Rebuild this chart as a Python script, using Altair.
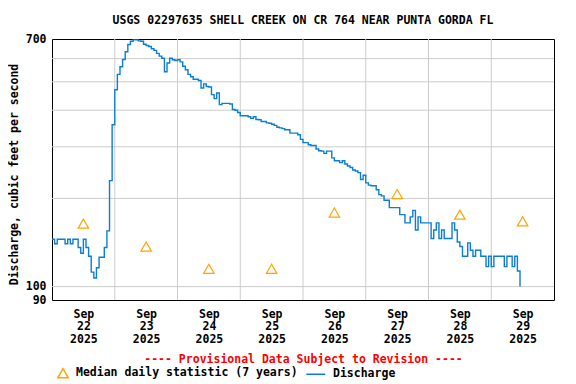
import json
import altair as alt
import pandas as pd

FONT = "DejaVu Sans Mono"
FS = 11.5

TITLE = "USGS 02297635 SHELL CREEK ON CR 764 NEAR PUNTA GORDA FL"
Y_TITLE = "Discharge, cubic feet per second"
X_TITLE = "---- Provisional Data Subject to Revision ----"
MEDIAN_LABEL = "Median daily statistic (7 years)"
DISCHARGE_LABEL = "Discharge"

# Hourly discharge (cfs) starting 2025-09-22 00:00
DISCHARGE = [
    145, 140, 145, 145, 145, 140, 145, 140, 145, 145,
    136, 130, 145, 136, 127, 112, 107, 116, 126, 126,
    136, 155, 230, 357, 470, 530, 563, 596, 633, 670,
    688, 695, 695, 690, 688, 672, 665, 660, 648, 640,
    625, 612, 602, 541, 580, 602, 595, 591, 595, 585,
    565, 550, 530, 520, 510, 510, 505, 476, 492, 482,
    480, 452, 438, 458, 418, 422, 422, 422, 420, 402,
    400, 393, 383, 383, 383, 380, 375, 380, 372, 371,
    366, 366, 362, 361, 358, 355, 350, 348, 346, 343,
    343, 334, 334, 334, 330, 318, 310, 310, 305, 303,
    303, 295, 291, 290, 285, 290, 290, 275, 269, 269,
    265, 269, 262, 258, 255, 250, 248, 245, 232, 240,
    226, 222, 221, 221, 214, 206, 204, 197, 197, 186,
    186, 186, 186, 176, 176, 165, 165, 173, 182, 156,
    173, 165, 165, 165, 165, 146, 156, 165, 146, 156,
    146, 146, 146, 165, 156, 142, 137, 127, 127, 141,
    133, 127, 133, 133, 127, 127, 117, 127, 117, 127,
    127, 127, 127, 117, 127, 127, 117, 127, 113, 100,
]

# Median daily statistic, plotted at noon of each day (day offset from Sep 22 00:00)
MEDIAN_DAYS = [0.5, 1.5, 2.5, 3.5, 4.5, 5.5, 6.5, 7.5]
MEDIAN_VALUES = [164, 137, 115, 115, 179, 207, 176, 167]

DAY_TICKS = [0.5, 1.5, 2.5, 3.5, 4.5, 5.5, 6.5, 7.5]
DAY_LABELS = [
    ["Sep", "22", "2025"], ["Sep", "23", "2025"], ["Sep", "24", "2025"],
    ["Sep", "25", "2025"], ["Sep", "26", "2025"], ["Sep", "27", "2025"],
    ["Sep", "28", "2025"], ["Sep", "29", "2025"],
]
Y_TICKS = [90, 100, 700]
GRID_DAYS = [1, 2, 3, 4, 5, 6, 7]
GRID_Q = [100, 200, 300, 400, 500, 600]
X_DOMAIN = [0, 8]
Y_DOMAIN = [90, 700]

BLUE = "#0a7fd2"
ORANGE = "#ffa500"
GRID = "#cccccc"

discharge_df = pd.DataFrame({
    "day": [i / 24 for i in range(len(DISCHARGE))],
    "q": DISCHARGE,
})
median_df = pd.DataFrame({
    "day": MEDIAN_DAYS,
    "q": MEDIAN_VALUES,
    "series": [MEDIAN_LABEL] * len(MEDIAN_DAYS),
})
grid_v_df = pd.DataFrame({"day": GRID_DAYS})
grid_h_df = pd.DataFrame({"q": GRID_Q})

xscale = alt.Scale(domain=X_DOMAIN, nice=False, zero=False)
yscale = alt.Scale(type="log", domain=Y_DOMAIN, nice=False)

x_axis = alt.Axis(
    values=DAY_TICKS,
    labelExpr=json.dumps(DAY_LABELS) + "[floor(datum.value)]",
    grid=False, ticks=False, tickSize=0, domain=False,
    labelPadding=8, labelLineHeight=12.7, labelAngle=0,
    labelFont=FONT, labelFontSize=FS, labelFontWeight="bold", labelColor="black",
    labelBaseline="top", labelOverlap=False, labelFlush=False,
    title=X_TITLE, titleColor="#ff0000", titleFont=FONT, titleFontSize=FS,
    titleFontWeight="bold", titleBaseline="alphabetic", titleY=62,
)
y_axis = alt.Axis(
    values=Y_TICKS, format="d",
    grid=False, ticks=False, tickSize=0, domain=False,
    labelPadding=6, labelFont=FONT, labelFontSize=FS, labelFontWeight="bold",
    labelColor="black", labelOverlap=False, labelFlush=False,
    title=Y_TITLE, titleFont=FONT, titleFontSize=FS, titleFontWeight="bold",
    titleColor="black", titleAngle=270, titleX=-38, titleY=135,
    titleAlign="center", titleBaseline="middle",
)

grid_v = alt.Chart(grid_v_df).mark_rule(color=GRID, strokeWidth=1).encode(
    x=alt.X("day:Q", scale=xscale, axis=x_axis)
)
grid_h = alt.Chart(grid_h_df).mark_rule(color=GRID, strokeWidth=1).encode(
    y=alt.Y("q:Q", scale=yscale, axis=y_axis)
)

line = alt.Chart(discharge_df).mark_line(
    interpolate="step-after", color=BLUE, strokeWidth=1.4
).encode(
    x=alt.X("day:Q", scale=xscale, axis=x_axis),
    y=alt.Y("q:Q", scale=yscale, axis=y_axis),
)

leg = alt.Legend(
    orient="none", legendX=5, legendY=328, direction="horizontal", title=None,
    labelFont=FONT, labelFontSize=FS, labelFontWeight="bold", labelColor="black",
    labelOffset=7, columnPadding=5, symbolStrokeWidth=1.5, labelLimit=500,
    symbolSize=110,
)
series_domain = [MEDIAN_LABEL, DISCHARGE_LABEL]
# custom legend glyph for discharge: a short horizontal stroke, shifted left
LEGEND_SHAPES = ["triangle-up", "M-2.6,0H1"]
points = alt.Chart(median_df).mark_point(filled=False, strokeWidth=1.2, opacity=1, size=110).encode(
    x=alt.X("day:Q", scale=xscale, axis=x_axis),
    y=alt.Y("q:Q", scale=yscale, axis=y_axis),
    color=alt.Color("series:N", scale=alt.Scale(domain=series_domain, range=[ORANGE, BLUE]), legend=leg),
    shape=alt.Shape("series:N", scale=alt.Scale(domain=series_domain, range=LEGEND_SHAPES), legend=leg),
)

chart = alt.layer(grid_v, grid_h, line, points).properties(
    width=502,
    height=261,
    background="white",
    autosize=alt.AutoSizeParams(type="none"),
    padding={"left": 44, "top": 31, "right": 14, "bottom": 80},
    title=alt.TitleParams(
        TITLE, font=FONT, fontSize=FS, fontWeight="bold", color="black",
        anchor="middle", offset=7,
    ),
).configure_view(stroke="black", strokeWidth=1)

chart.save("out.html", embed_options={"renderer": "svg", "actions": False})
